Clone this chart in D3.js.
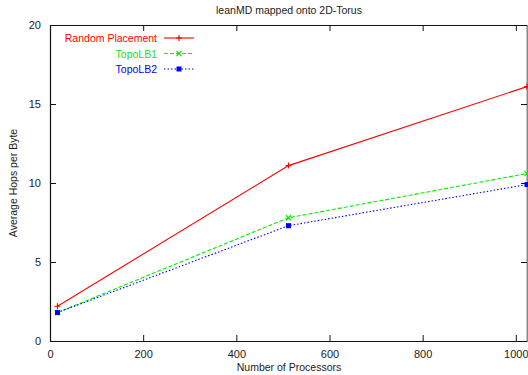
<!DOCTYPE html>
<html>
<head>
<meta charset="utf-8">
<script src="https://cdn.jsdelivr.net/npm/d3@7"></script>
<style>
  body { margin: 0; background: #fff; }
  text { font-family: "Liberation Sans", Arial, sans-serif; fill: #222; }
</style>
</head>
<body>
<div id="wrapper"></div>
<script>
const processors = [16, 512, 1024]
const randomPlacement = [2.2, 11.1, 16.1]
const topoLB1 = [1.8, 7.8, 10.6]
const topoLB2 = [1.8, 7.3, 9.9]
const xTicks = [0, 200, 400, 600, 800, 1000]
const yTicks = [0, 5, 10, 15, 20]

const series = [
    { name: "Random Placement", values: randomPlacement, color: "#ff0000", dash: null, marker: "plus" },
    { name: "TopoLB1", values: topoLB1, color: "#00ee00", dash: "4,2", marker: "cross" },
    { name: "TopoLB2", values: topoLB2, color: "#0000ff", dash: "1.5,2", marker: "square" },
]

function drawChart() {
    let dimensions = {
        width: 528,
        height: 375,
        margin: { top: 25, right: 1, bottom: 34, left: 50 },
    }
    dimensions.boundedWidth = dimensions.width - dimensions.margin.left - dimensions.margin.right
    dimensions.boundedHeight = dimensions.height - dimensions.margin.top - dimensions.margin.bottom

    const wrapper = d3.select("#wrapper")
        .append("svg")
        .attr("width", dimensions.width)
        .attr("height", dimensions.height)

    const bounds = wrapper.append("g")
        .attr("transform", `translate(${dimensions.margin.left},${dimensions.margin.top})`)

    const xScale = d3.scaleLinear()
        .domain([0, 1024])
        .range([0, dimensions.boundedWidth])

    const yScale = d3.scaleLinear()
        .domain([0, 20])
        .range([dimensions.boundedHeight, 0])

    // axes, gnuplot style: inward ticks mirrored on top/right
    const tickLen = 6
    const xAxis = bounds.append("g")
        .attr("transform", `translate(0,${dimensions.boundedHeight})`)
        .call(d3.axisBottom(xScale).tickValues(xTicks).tickFormat(d3.format("d"))
            .tickSizeInner(-tickLen).tickSizeOuter(0).tickPadding(9))
    const xAxisTop = bounds.append("g")
        .call(d3.axisTop(xScale).tickValues(xTicks).tickSizeInner(-tickLen).tickSizeOuter(0).tickFormat(""))
    const yAxis = bounds.append("g")
        .call(d3.axisLeft(yScale).tickValues(yTicks).tickSizeInner(-tickLen).tickSizeOuter(0).tickPadding(9))
    const yAxisRight = bounds.append("g")
        .attr("transform", `translate(${dimensions.boundedWidth},0)`)
        .call(d3.axisRight(yScale).tickValues(yTicks).tickSizeInner(-tickLen).tickSizeOuter(0).tickFormat(""))

    bounds.selectAll(".domain").attr("stroke", "#111").attr("stroke-width", 1.2)
    yAxisRight.select(".domain").attr("stroke", "#888").attr("stroke-width", 2)
    bounds.selectAll(".tick line").attr("stroke", "#111")
    bounds.selectAll(".tick text").style("font-size", "11px").attr("fill", "#333")
        .style("font-family", "Liberation Sans, Arial, sans-serif")

    const lineGenerator = d3.line()
        .x((d, i) => xScale(processors[i]))
        .y(d => yScale(d))

    const drawMarker = (g, type, x, y, color) => {
        if (type === "plus") {
            g.append("path").attr("d", `M${x - 3},${y}H${x + 3}M${x},${y - 3}V${y + 3}`)
                .attr("stroke", color).attr("stroke-width", 1.2)
        } else if (type === "cross") {
            g.append("path").attr("d", `M${x - 2.5},${y - 2.5}L${x + 2.5},${y + 2.5}M${x - 2.5},${y + 2.5}L${x + 2.5},${y - 2.5}`)
                .attr("stroke", color).attr("stroke-width", 1.2)
        } else {
            g.append("rect").attr("x", x - 2.5).attr("y", y - 2.5).attr("width", 5).attr("height", 5)
                .attr("fill", color)
        }
    }

    series.forEach(s => {
        bounds.append("path")
            .datum(s.values)
            .attr("d", lineGenerator)
            .attr("fill", "none")
            .attr("stroke", s.color)
            .attr("stroke-width", 1.1)
            .attr("stroke-dasharray", s.dash)
        s.values.forEach((v, i) => drawMarker(bounds, s.marker, xScale(processors[i]), yScale(v), s.color))
    })

    // legend
    const legend = wrapper.append("g")
    series.forEach((s, i) => {
        const y = 38 + i * 15.5
        legend.append("text")
            .attr("x", 157).attr("y", y + 4)
            .attr("text-anchor", "end")
            .style("font-size", "10.5px")
            .style("fill", s.color === "#00ee00" ? "#22dd22" : s.color)
            .text(s.name)
        legend.append("line")
            .attr("x1", 164).attr("x2", 194).attr("y1", y).attr("y2", y)
            .attr("stroke", s.color).attr("stroke-width", 1.1)
            .attr("stroke-dasharray", s.dash)
        drawMarker(legend, s.marker, 179, y, s.color)
    })

    wrapper.append("text")
        .attr("x", 289).attr("y", 14)
        .attr("text-anchor", "middle")
        .style("font-size", "10.5px")
        .text("leanMD mapped onto 2D-Torus")

    wrapper.append("text")
        .attr("x", 289).attr("y", 371)
        .attr("text-anchor", "middle")
        .style("font-size", "10.5px")
        .text("Number of Processors")

    wrapper.append("text")
        .attr("transform", `translate(17,183) rotate(-90)`)
        .attr("text-anchor", "middle")
        .style("font-size", "10.5px")
        .text("Average Hops per Byte")
}

drawChart()
</script>
</body>
</html>
